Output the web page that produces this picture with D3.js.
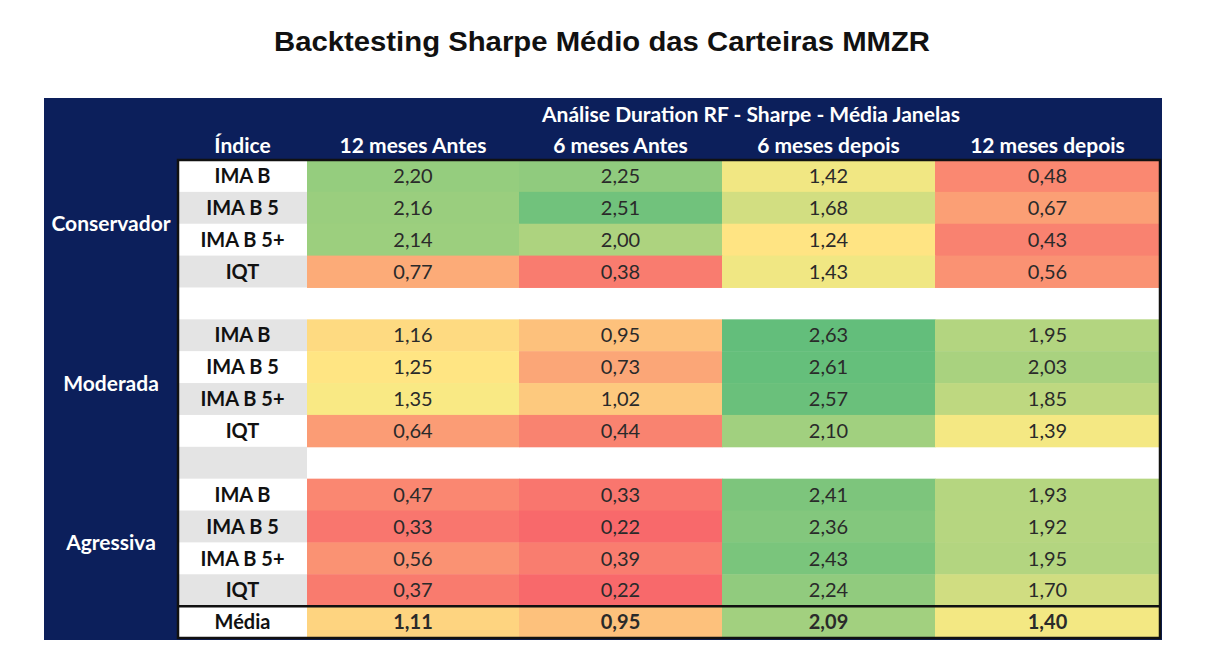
<!DOCTYPE html>
<html>
<head>
<meta charset="utf-8">
<script src="https://cdn.jsdelivr.net/npm/d3@7"></script>
<style>
  body { margin: 0; background: #fff; }
  svg text { font-family: Lato, "Open Sans", sans-serif; }
  svg text.title { font-family: "Liberation Sans", Arial, sans-serif; }
</style>
</head>
<body>
<div id="chart"></div>
<script>
const title = "Backtesting Sharpe Médio das Carteiras MMZR";
const superHeader = "Análise Duration RF - Sharpe - Média Janelas";
const indexHeader = "Índice";
const periods = ["12 meses Antes", "6 meses Antes", "6 meses depois", "12 meses depois"];
const groups = ["Conservador", "Moderada", "Agressiva"];
const indices = ["IMA B", "IMA B 5", "IMA B 5+", "IQT"];
// one row per index, one value per period
const conservador = [
  [2.20, 2.25, 1.42, 0.48],
  [2.16, 2.51, 1.68, 0.67],
  [2.14, 2.00, 1.24, 0.43],
  [0.77, 0.38, 1.43, 0.56]
];
const moderada = [
  [1.16, 0.95, 2.63, 1.95],
  [1.25, 0.73, 2.61, 2.03],
  [1.35, 1.02, 2.57, 1.85],
  [0.64, 0.44, 2.10, 1.39]
];
const agressiva = [
  [0.47, 0.33, 2.41, 1.93],
  [0.33, 0.22, 2.36, 1.92],
  [0.56, 0.39, 2.43, 1.95],
  [0.37, 0.22, 2.24, 1.70]
];
const mediaLabel = "Média";
const media = [1.11, 0.95, 2.09, 1.40];

const W = 1206, H = 668;
const box = {x0: 44, x1: 1162, y0: 98, y1: 640};
const idxX0 = 178, bodyY0 = 160, bodyY1 = 638;
// column edges of the value grid (the columns are not all equally wide)
const colEdges = [307, 519, 722, 935, 1160];
const navy = "#0c1f5b";
const colorMid = 1.3;  // where the scale turns yellow

const groupValues = [conservador, moderada, agressiva];

// build row list: group rows, spacer between groups, then the average row
let rows = [];
groups.forEach((g, gi) => {
  indices.forEach((ix, ii) => {
    rows.push({key: g + "|" + ix, group: g, label: ix, values: groupValues[gi][ii]});
  });
  if (gi < groups.length - 1) rows.push({key: "spacer" + gi, spacer: true});
});
rows.push({key: "media", label: mediaLabel, values: media, media: true});
rows.forEach((r, i) => r.i = i);

const svg = d3.select("#chart").append("svg")
  .attr("width", W)
  .attr("height", H);

const x = d3.scaleOrdinal().domain(periods).range(colEdges.slice(0, -1));
const xw = p => colEdges[periods.indexOf(p) + 1] - x(p);
const y = d3.scaleBand().domain(rows.map(r => r.key)).range([bodyY0, bodyY1]);
const dataX0 = colEdges[0], dataX1 = colEdges[colEdges.length - 1];

const allVals = groupValues.flat(2);
const color = d3.scaleLinear()
  .domain([d3.min(allVals), colorMid, d3.max(allVals)])
  .range(["#f8696b", "#ffeb84", "#63be7b"])
  .clamp(true);

const locale = d3.formatLocale({decimal: ",", thousands: ".", grouping: [3], currency: ["R$", ""]});
const fmt = locale.format(".2f");

svg.append("text")
  .attr("class", "title")
  .attr("x", 602)
  .attr("y", 51)
  .attr("text-anchor", "middle")
  .attr("font-size", 28)
  .attr("font-weight", "bold")
  .attr("fill", "#111")
  .attr("textLength", 656)
  .attr("lengthAdjust", "spacingAndGlyphs")
  .text(title);

// navy frame
svg.append("rect")
  .attr("x", box.x0).attr("y", box.y0)
  .attr("width", box.x1 - box.x0).attr("height", box.y1 - box.y0)
  .attr("fill", navy);

svg.append("text")
  .attr("x", 751).attr("y", 122)
  .attr("text-anchor", "middle")
  .attr("font-size", 21).attr("font-weight", "bold")
  .attr("fill", "#fff")
  .text(superHeader);

svg.append("text")
  .attr("x", (idxX0 + dataX0) / 2).attr("y", 153)
  .attr("text-anchor", "middle")
  .attr("font-size", 21).attr("font-weight", "bold")
  .attr("fill", "#fff")
  .text(indexHeader);

svg.selectAll("text.period")
  .data(periods)
  .join("text")
  .attr("class", "period")
  .attr("x", d => x(d) + xw(d) / 2)
  .attr("y", 153)
  .attr("text-anchor", "middle")
  .attr("font-size", 21).attr("font-weight", "bold")
  .attr("fill", "#fff")
  .text(d => d);

// white body behind everything
svg.append("rect")
  .attr("x", idxX0).attr("y", bodyY0)
  .attr("width", dataX1 - idxX0).attr("height", bodyY1 - bodyY0)
  .attr("fill", "#fff");

const rowG = svg.selectAll("g.row")
  .data(rows)
  .join("g")
  .attr("class", "row")
  .attr("transform", d => `translate(0,${y(d.key)})`);

// index column alternates white / light grey
rowG.append("rect")
  .attr("x", idxX0)
  .attr("width", dataX0 - idxX0)
  .attr("height", y.bandwidth() + 0.5)
  .attr("fill", d => d.i % 2 ? "#e4e4e4" : "#fff");

rowG.filter(d => !d.spacer).append("text")
  .attr("x", (idxX0 + dataX0) / 2)
  .attr("y", y.bandwidth() / 2)
  .attr("dy", "0.36em")
  .attr("text-anchor", "middle")
  .attr("font-size", 20).attr("font-weight", "bold")
  .attr("fill", "#111")
  .text(d => d.label);

const cells = rowG.filter(d => !d.spacer).selectAll("g.cell")
  .data(d => d.values.map((v, j) => ({v, p: periods[j], media: d.media})))
  .join("g")
  .attr("class", "cell");

cells.append("rect")
  .attr("x", d => x(d.p))
  .attr("width", d => xw(d.p) + 0.5)
  .attr("height", y.bandwidth() + 0.5)
  .attr("fill", d => color(d.v));

cells.append("text")
  .attr("x", d => x(d.p) + xw(d.p) / 2)
  .attr("y", y.bandwidth() / 2)
  .attr("dy", "0.36em")
  .attr("text-anchor", "middle")
  .attr("font-size", 20)
  .attr("font-weight", d => d.media ? "bold" : "normal")
  .attr("fill", "#2a2a2a")
  .text(d => fmt(d.v));

// group labels on the navy band
groups.forEach((g, gi) => {
  const gr = rows.filter(r => r.group === g);
  const yMid = (y(gr[0].key) + y(gr[gr.length - 1].key) + y.bandwidth()) / 2;
  svg.append("text")
    .attr("x", (box.x0 + idxX0) / 2)
    .attr("y", yMid)
    .attr("dy", "0.36em")
    .attr("text-anchor", "middle")
    .attr("font-size", 21).attr("font-weight", "bold")
    .attr("fill", "#fff")
    .text(g);
});

// borders
svg.append("rect")
  .attr("x", idxX0).attr("y", bodyY0)
  .attr("width", dataX1 - idxX0).attr("height", bodyY1 - bodyY0)
  .attr("fill", "none")
  .attr("stroke", "#111")
  .attr("stroke-width", 2.5);

svg.append("line")
  .attr("x1", idxX0).attr("x2", dataX1)
  .attr("y1", y("media")).attr("y2", y("media"))
  .attr("stroke", "#111")
  .attr("stroke-width", 2.5);
</script>
</body>
</html>
